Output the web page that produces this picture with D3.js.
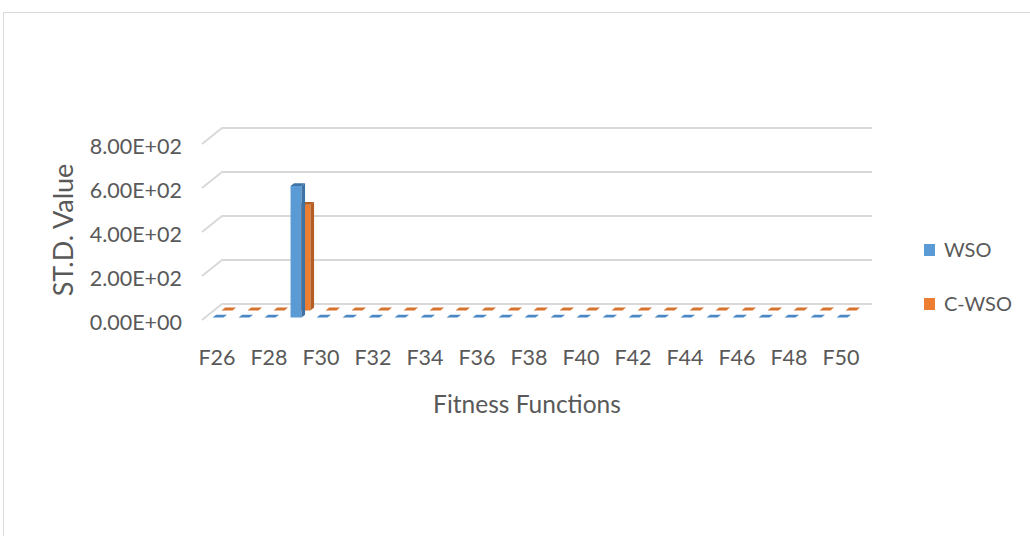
<!DOCTYPE html>
<html>
<head>
<meta charset="utf-8">
<script src="https://cdn.jsdelivr.net/npm/d3@7"></script>
<style>
  html, body { margin: 0; padding: 0; background: #fff; }
  svg { display: block; }
  text { font-family: Lato, "Open Sans", sans-serif; fill: #595959; }
</style>
</head>
<body>
<svg id="chart" width="1030" height="536"></svg>
<script>
// Fitness functions F26..F50
const categories = d3.range(26, 51).map(n => "F" + n);
// Standard deviation per function
const wsoValues = [0, 0, 0, 598, 0, 0, 0, 0, 0, 0, 0, 0, 0, 0, 0, 0, 0, 0, 0, 0, 0, 0, 0, 0, 0];
const cwsoValues = [0, 0, 0, 480, 0, 0, 0, 0, 0, 0, 0, 0, 0, 0, 0, 0, 0, 0, 0, 0, 0, 0, 0, 0, 0];
const seriesNames = ["WSO", "C-WSO"];
const yTicks = [0, 200, 400, 600, 800];
const xTickLabels = categories.filter((d, i) => i % 2 === 0);

const svg = d3.select("#chart");

// chart frame
svg.append("rect")
  .attr("x", 3.5).attr("y", 12.5)
  .attr("width", 1040).attr("height", 540)
  .attr("fill", "#fff").attr("stroke", "#d9d9d9").attr("stroke-width", 1);

// oblique 3D projection: depth z in [0,1] shifts right and up
const DX = 20, DY = -16;
const x = d3.scaleBand().domain(categories).range([202, 852]);
const y = d3.scaleLinear().domain([0, 800]).range([320, 144]);
const proj = (px, py, z) => [px + z * DX, py + z * DY];
const line = d3.line();

// gridlines: side wall diagonal + back wall horizontal
const grid = svg.append("g");
yTicks.forEach(t => {
  const a = proj(x.range()[0], y(t), 0);
  const b = proj(x.range()[0], y(t), 1);
  const c = proj(x.range()[1], y(t), 1);
  grid.append("path")
    .attr("d", line([a, b, c]))
    .attr("fill", "none")
    .attr("stroke", "#d9d9d9")
    .attr("stroke-width", 2);
});

// y tick labels
const fmt = d => d3.format(".2e")(d).replace(/e\+(\d)$/, "E+0$1").replace(/e\+(\d\d)$/, "E+$1");
svg.append("g").selectAll("text").data(yTicks).join("text")
  .attr("x", 182)
  .attr("y", d => y(d) + 2)
  .attr("dy", "0.35em")
  .attr("text-anchor", "end")
  .attr("font-size", 21.5)
  .text(fmt);

// x tick labels
svg.append("g").selectAll("text").data(xTickLabels).join("text")
  .attr("x", d => x(d) + x.bandwidth() / 2 + 2)
  .attr("y", 357)
  .attr("dy", "0.35em")
  .attr("text-anchor", "middle")
  .attr("font-size", 21.5)
  .text(d => d);

// axis titles
svg.append("text")
  .attr("transform", "translate(64,230) rotate(-90)")
  .attr("text-anchor", "middle")
  .attr("dy", "0.35em")
  .attr("font-size", 27)
  .text("ST.D. Value");

svg.append("text")
  .attr("x", 527).attr("y", 404)
  .attr("dy", "0.35em")
  .attr("text-anchor", "middle")
  .attr("font-size", 24.5)
  .text("Fitness Functions");

// 3D bars
const series = [
  { name: "C-WSO", values: cwsoValues, z0: 0.6, z1: 0.78, front: "#ED7D31", side: "#B55E24", top: "#D8732E" },
  { name: "WSO", values: wsoValues, z0: 0.15, z1: 0.33, front: "#5B9BD5", side: "#3F73A6", top: "#4A88C6" }
];
const barW = x.bandwidth() * 0.42;

series.forEach(s => {
  const g = svg.append("g").attr("class", "series-" + s.name);
  categories.forEach((c, i) => {
    const x0 = x(c) + (x.bandwidth() - barW) / 2;
    const x1 = x0 + barW;
    const yb = y(0), yt = y(s.values[i]);
    const h = yb - yt;
    if (h > 0.5) {
      // front face
      g.append("path").attr("fill", s.front)
        .attr("d", line([proj(x0, yb, s.z0), proj(x1, yb, s.z0), proj(x1, yt, s.z0), proj(x0, yt, s.z0)]) + "Z");
      // right side face
      g.append("path").attr("fill", s.side)
        .attr("d", line([proj(x1, yb, s.z0), proj(x1, yb, s.z1), proj(x1, yt, s.z1), proj(x1, yt, s.z0)]) + "Z");
    }
    // top face
    g.append("path").attr("fill", h > 0.5 ? s.side : s.top)
      .attr("d", line([proj(x0, yt, s.z0), proj(x1, yt, s.z0), proj(x1, yt, s.z1), proj(x0, yt, s.z1)]) + "Z");
  });
});

// legend
const legend = svg.append("g");
[{ name: "WSO", color: "#5B9BD5", y: 250 }, { name: "C-WSO", color: "#ED7D31", y: 304 }].forEach((d, i) => {
  legend.append("rect").attr("x", 924).attr("y", d.y - 6).attr("width", 11).attr("height", 12).attr("fill", d.color);
  legend.append("text").attr("x", 944).attr("y", d.y).attr("dy", "0.35em").attr("font-size", 20).text(seriesNames[i]);
});
</script>
</body>
</html>
